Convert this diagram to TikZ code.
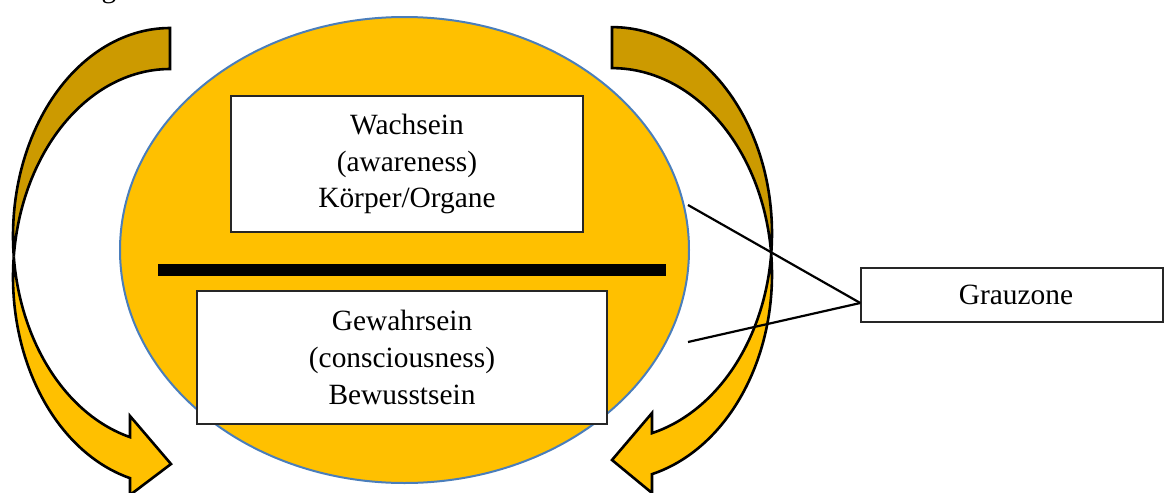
\documentclass[tikz,border=0pt]{standalone}
\usepackage{fontspec}
\setmainfont{Liberation Serif}
\usetikzlibrary{shapes.geometric}
\definecolor{gold}{HTML}{FFC000}
\definecolor{darkgold}{HTML}{CC9A00}
\definecolor{rim}{HTML}{4A7EBB}
\begin{document}
\begin{tikzpicture}[x=0.5pt,y=-0.5pt,
  band/.style={draw=black,line width=1.3pt,line join=miter},
  textbox/.style={draw=black!85,line width=0.7pt,fill=white,inner sep=0pt,
    align=center,font=\fontsize{14.7}{18.4}\selectfont},
  link/.style={line width=1.1pt}]
\useasboundingbox (0,0) rectangle (1164,493);

% tail of a letter from the line above
\node[font=\fontsize{14.7}{16}\selectfont,inner sep=0pt,anchor=base] (frag) at (109,-3) {g};

% left curved arrow: back face (upper) and front face (lower) with head
\draw[band,fill=darkgold]
  plot[domain=270:174.34,samples=60] ({170+157*cos(\x)},{236+208*sin(\x)})
  -- plot[domain=185.66:270,samples=60] ({170+157*cos(\x)},{277+208*sin(\x)})
  -- cycle;
\draw[band,fill=gold]
  plot[domain=174.34:104.76,samples=60] ({170+157*cos(\x)},{236+208*sin(\x)})
  -- (130,416) -- (171,464) -- (130,495)
  -- plot[domain=104.76:185.66,samples=60] ({170+157*cos(\x)},{277+208*sin(\x)})
  -- cycle;

% right curved arrow (mirrored)
\draw[band,fill=darkgold]
  plot[domain=270:174.30,samples=60] ({612-160*cos(\x)},{233.4+206.3*sin(\x)})
  -- plot[domain=185.70:270,samples=60] ({612-160*cos(\x)},{274.4+206.3*sin(\x)})
  -- cycle;
\draw[band,fill=gold]
  plot[domain=174.30:104.48,samples=60] ({612-160*cos(\x)},{233.4+206.3*sin(\x)})
  -- (652,413) -- (612,460) -- (652,493)
  -- plot[domain=104.48:185.70,samples=60] ({612-160*cos(\x)},{274.4+206.3*sin(\x)})
  -- cycle;

% central oval
\node[ellipse,draw=rim,line width=1pt,fill=gold,inner sep=0pt,
  minimum width=284.5pt,minimum height=233pt] (ell) at (404.5,250) {};

\node[textbox,minimum width=176pt,minimum height=68pt] (wach) at (407,164)
  {Wachsein\\(awareness)\\Körper/Organe};
\node[fill=black,inner sep=0pt,minimum width=254pt,minimum height=6pt] (bar) at (412,270) {};
\node[textbox,minimum width=205pt,minimum height=66.5pt] (gew) at (402,357.5)
  {Gewahrsein\\(consciousness)\\Bewusstsein};

% grey zone label and its two pointers
\node[textbox,minimum width=151pt,minimum height=27pt] (gz) at (1012,295) {\hspace*{4pt}Grauzone};
\coordinate (gzin) at ([yshift=-4pt]gz.west);
\coordinate (up) at (688,205);
\coordinate (lo) at (688,342);
\draw[link] (gzin) -- (up);
\draw[link] (gzin) -- (lo);
\end{tikzpicture}
\end{document}
